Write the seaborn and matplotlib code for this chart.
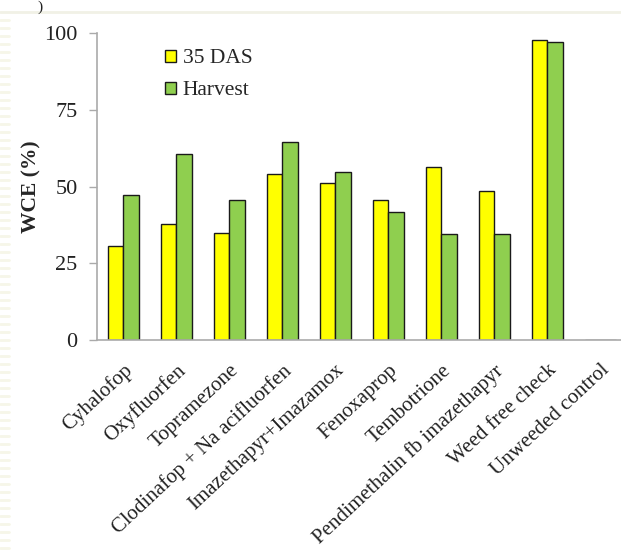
import matplotlib
matplotlib.use("Agg")
import matplotlib.pyplot as plt
import matplotlib.patches as mpatches
import seaborn as sns
import pandas as pd

treatments = [
    "Cyhalofop",
    "Oxyfluorfen",
    "Topramezone",
    "Clodinafop + Na acifluorfen",
    "Imazethapyr+Imazamox",
    "Fenoxaprop",
    "Tembotrione",
    "Pendimethalin fb imazethapyr",
    "Weed free check",
    "Unweeded control",
]
das35 = [30.5, 37.8, 34.9, 54.0, 51.2, 45.6, 56.2, 48.5, 97.7, 0]
harvest = [47.2, 60.6, 45.6, 64.6, 54.8, 41.6, 34.4, 34.4, 97.1, 0]
series_names = ["35 DAS", "Harvest"]
yticks = [0, 25, 50, 75, 100]

df = pd.DataFrame({
    "Treatment": treatments * 2,
    "Series": [series_names[0]] * len(treatments) + [series_names[1]] * len(treatments),
    "WCE": das35 + harvest,
})

sns.set_theme(style="white")
plt.rcParams["font.family"] = ["Liberation Serif", "DejaVu Serif"]

colors = {"35 DAS": "#FFFF00", "Harvest": "#8FCF4F"}

fig = plt.figure(figsize=(6.21, 5.56), dpi=100)
fig.patch.set_facecolor("white")
ax = fig.add_axes([97 / 621, 1 - 340 / 556, 1 - 97 / 621, (340 - 33) / 556])

sns.barplot(
    data=df, x="Treatment", y="WCE", hue="Series", order=treatments,
    hue_order=series_names, palette=colors, width=0.58, dodge=True,
    edgecolor="#1a1a1a", linewidth=1.0, legend=False, ax=ax, saturation=1,
)

ax.set_ylim(0, 100)
ax.set_xlim(-0.5, 9.39)
ax.set_yticks(yticks)
ax.set_yticklabels([str(v) for v in yticks], fontsize=16, color="#222222")
ax.set_xticks(range(len(treatments)))
ax.set_xticklabels(treatments, rotation=43, ha="right", rotation_mode="anchor",
                   fontsize=15, color="#222222")
ax.tick_params(axis="y", which="both", left=True, length=6, width=1,
               color="#aaaaaa", pad=8)
ax.tick_params(axis="x", which="both", bottom=False, pad=9)
ax.set_xlabel("")
ax.set_ylabel("WCE (%)", fontsize=15.5, fontweight="bold", labelpad=2)

for side in ("top", "right"):
    ax.spines[side].set_visible(False)
for side in ("left", "bottom"):
    ax.spines[side].set_color("#aaaaaa")
    ax.spines[side].set_linewidth(1.2)

handles = [
    mpatches.Patch(facecolor=colors[s], edgecolor="#1a1a1a", linewidth=1.0, label=s)
    for s in series_names
]
ax.legend(handles=handles, loc="upper left", bbox_to_anchor=(146 / 621, 1 - 30 / 556),
          bbox_transform=fig.transFigure, frameon=False, fontsize=15.5,
          handlelength=0.5, handleheight=0.5, handletextpad=0.3, labelspacing=0.6)

# slide background details
fig.add_artist(plt.Line2D([0, 1], [1 - 12 / 556, 1 - 12 / 556], transform=fig.transFigure,
                          color="#f1f1e6", linewidth=2))
fig.text(40 / 621, 1 - 1 / 556, ")", fontsize=11, va="top", ha="center", color="#222222")
for yy in range(20, 556, 8):
    fig.add_artist(plt.Line2D([0, 9 / 621], [1 - yy / 556, 1 - yy / 556],
                              transform=fig.transFigure, color="#f6f6e8", linewidth=2))

fig.savefig("out.png", dpi=100, facecolor="white")
